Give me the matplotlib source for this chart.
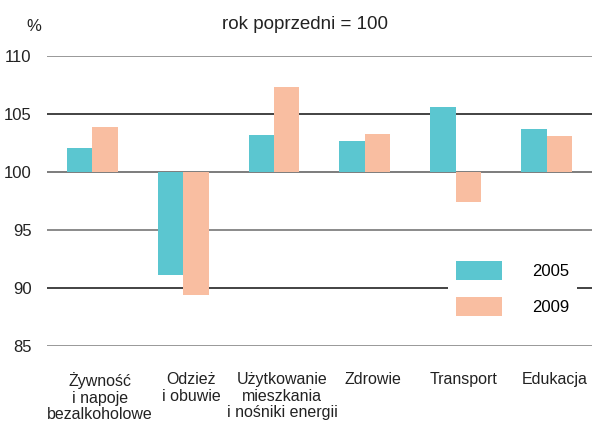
import matplotlib
matplotlib.use("Agg")
import matplotlib.pyplot as plt
import matplotlib.transforms as mtransforms
import numpy as np

plt.rcParams['font.family'] = ['Liberation Sans', 'DejaVu Sans']

categories = ["Żywność\ni napoje\nbezalkoholowe", "Odzież\ni obuwie",
              "Użytkowanie\nmieszkania\ni nośniki energii", "Zdrowie",
              "Transport", "Edukacja"]
series_2005 = [102.1, 91.1, 103.2, 102.7, 105.6, 103.7]
series_2009 = [103.9, 89.4, 107.3, 103.3, 97.4, 103.1]
yticks = [85, 90, 95, 100, 105, 110]
base = 100

fig = plt.figure(figsize=(5.92, 4.21), dpi=100)
ax = fig.add_axes([0.079, 0.178, 0.921, 0.689])

x = np.arange(len(categories))
w = 0.28
c05 = '#5BC6D0'
c09 = '#F9BEA1'

line_colors = ['#888888', '#222222', '#777777', '#666666', '#222222', '#888888']
for yv, lc in zip(yticks, line_colors):
    ax.axhline(yv, color=lc, lw=1.2, zorder=1)

ax.bar(x - w/2, np.array(series_2005) - base, w, bottom=base, color=c05, zorder=3, label='2005')
ax.bar(x + w/2, np.array(series_2009) - base, w, bottom=base, color=c09, zorder=3, label='2009')

ax.set_xlim(-0.5, 5.5)
ax.set_ylim(85, 110)
ax.set_yticks(yticks)
ax.set_yticklabels([str(t) for t in yticks], fontsize=12, color='#222222')
ax.tick_params(axis='y', length=0, pad=11)
ax.set_xticks(x)
ax.set_xticklabels(categories, fontsize=11.5, color='#222222', linespacing=1.15)
ax.tick_params(axis='x', length=0, pad=18.5)
offset = mtransforms.ScaledTranslation(8/100, 0, fig.dpi_scale_trans)
for lbl in ax.get_xticklabels():
    lbl.set_transform(lbl.get_transform() + offset)
for s in ax.spines.values():
    s.set_visible(False)

leg = ax.legend(loc='lower right', bbox_to_anchor=(0.973, 0.075), frameon=True,
                fontsize=12, handlelength=2.75, handleheight=1.4,
                handletextpad=1.8, labelspacing=1.0, borderpad=0.5,
                borderaxespad=0)
leg.get_frame().set_facecolor('white')
leg.get_frame().set_edgecolor('none')
leg.get_frame().set_alpha(1)
leg.set_zorder(5)

fig.text(0.516, 0.941, "rok poprzedni = 100", ha='center', va='center', fontsize=13.5, color='#222222')
fig.text(0.057, 0.936, "%", ha='center', va='center', fontsize=12, color='#222222')

fig.savefig("out.png", dpi=100)
